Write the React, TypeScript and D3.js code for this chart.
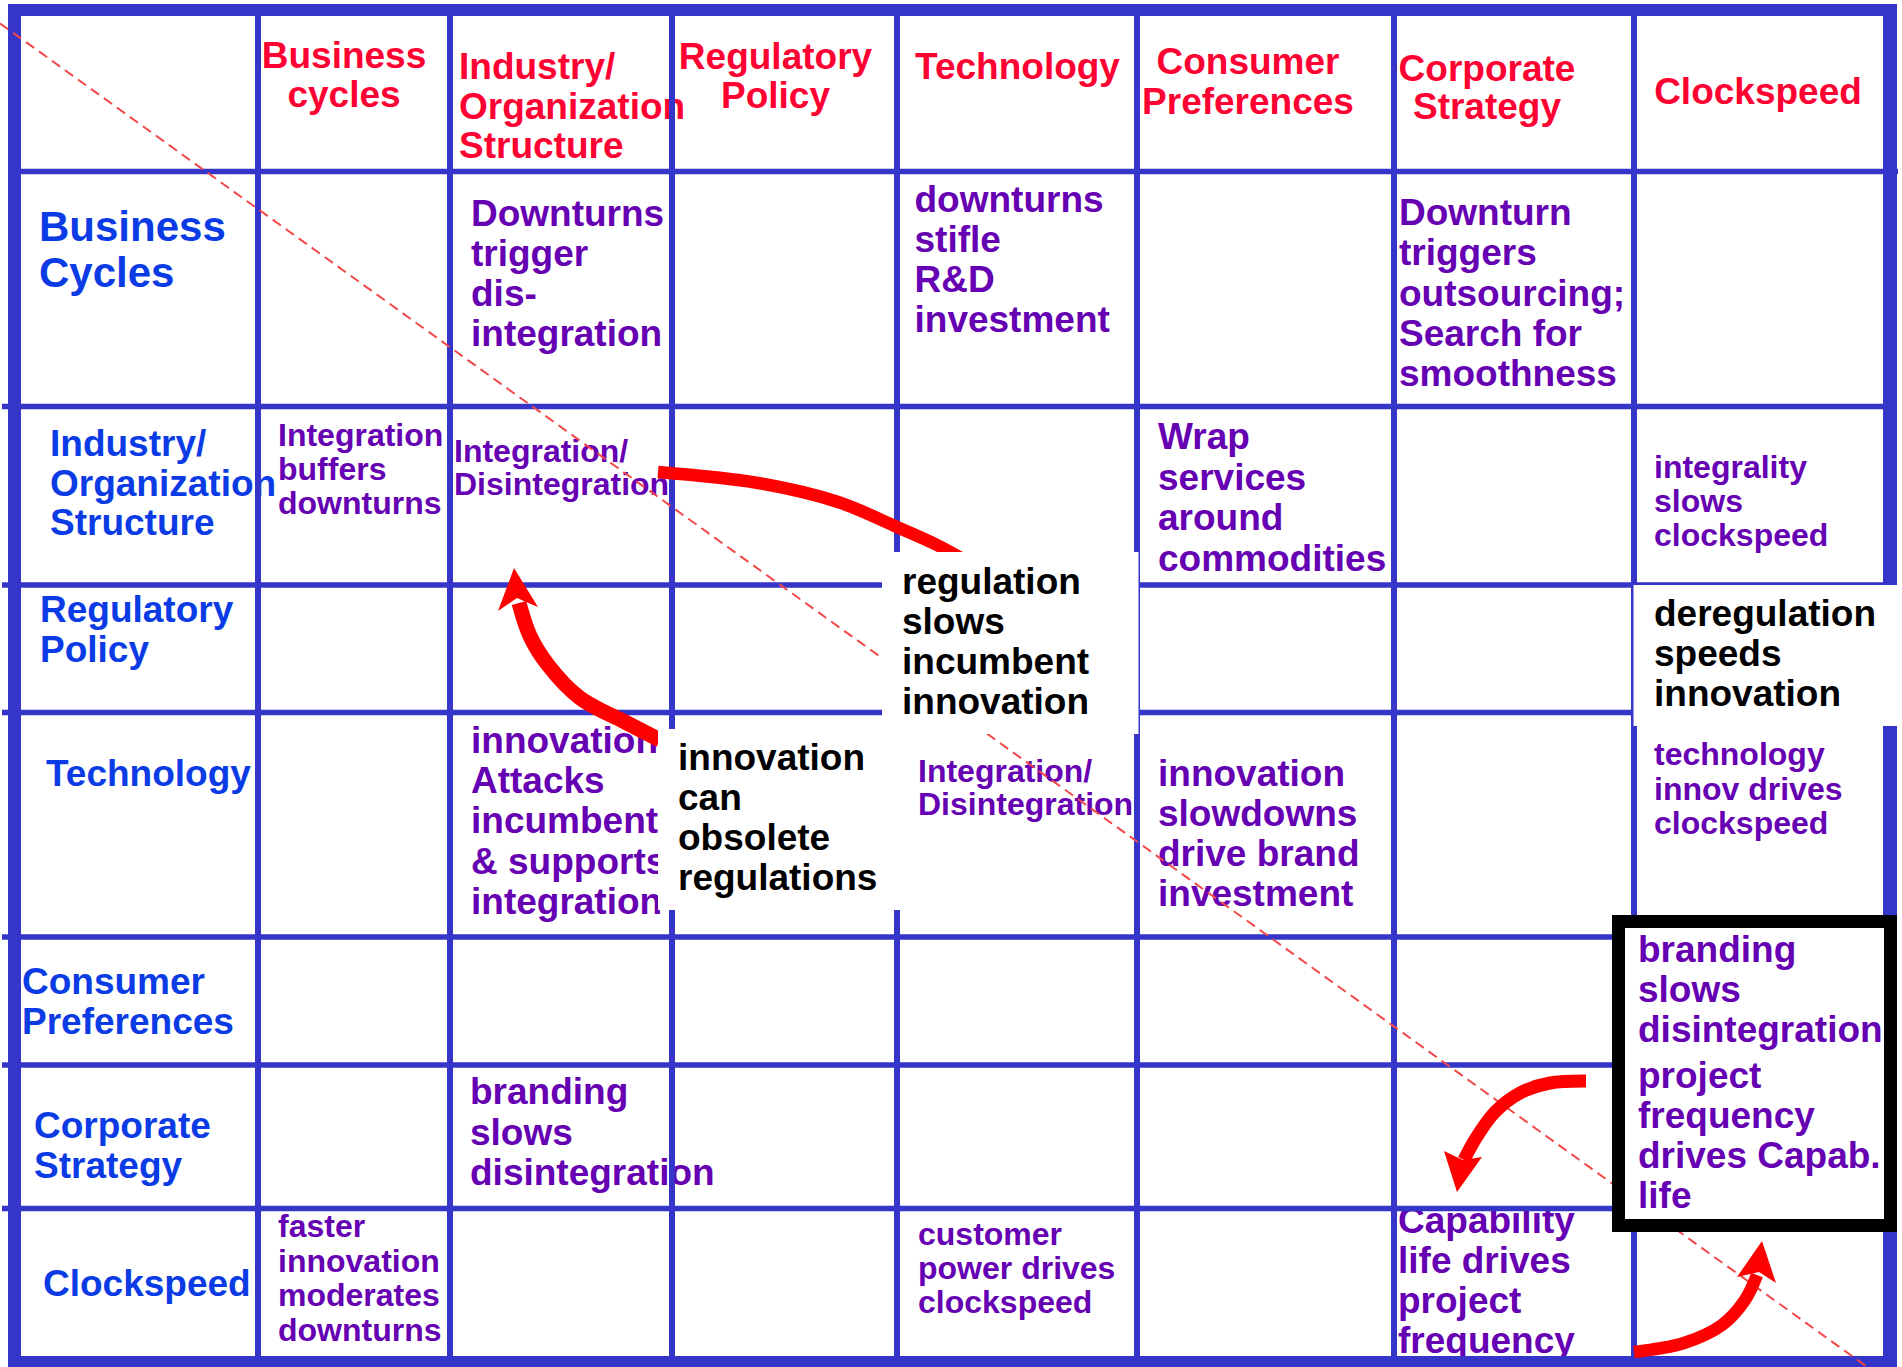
import * as d3 from "d3";

// the seven factors, as column heads (what is affected) and row heads (what acts)
const colHeads = [
  ["Business", "cycles"],
  ["Industry/", "Organization", "Structure"],
  ["Regulatory", "Policy"],
  ["Technology"],
  ["Consumer", "Preferences"],
  ["Corporate", "Strategy"],
  ["Clockspeed"],
];
const rowHeads = [
  ["Business", "Cycles"],
  ["Industry/", "Organization", "Structure"],
  ["Regulatory", "Policy"],
  ["Technology"],
  ["Consumer", "Preferences"],
  ["Corporate", "Strategy"],
  ["Clockspeed"],
];

// effect of row factor "from" on column factor "to"
const effects = [
  { from: 0, to: 1, lines: ["Downturns", "trigger", "dis-", "integration"] },
  { from: 0, to: 3, lines: ["downturns", "stifle", "R&D", "investment"] },
  { from: 0, to: 5, lines: ["Downturn", "triggers", "outsourcing;", "Search for", "smoothness"] },
  { from: 1, to: 0, lines: ["Integration", "buffers", "downturns"] },
  { from: 1, to: 1, lines: ["Integration/", "Disintegration"] },
  { from: 1, to: 4, lines: ["Wrap", "services", "around", "commodities"] },
  { from: 1, to: 6, lines: ["integrality", "slows", "clockspeed"] },
  { from: 3, to: 1, lines: ["innovation", "Attacks", "incumbent", "& supports", "integration"] },
  { from: 3, to: 3, lines: ["Integration/", "Disintegration"] },
  { from: 3, to: 4, lines: ["innovation", "slowdowns", "drive brand", "investment"] },
  { from: 3, to: 6, lines: ["technology", "innov drives", "clockspeed"] },
  { from: 5, to: 1, lines: ["branding", "slows", "disintegration"] },
  { from: 6, to: 0, lines: ["faster", "innovation", "moderates", "downturns"] },
  { from: 6, to: 3, lines: ["customer", "power drives", "clockspeed"] },
  { from: 6, to: 5, lines: ["Capability", "life drives", "project", "frequency"] },
];

const callouts = [
  ["regulation", "slows", "incumbent", "innovation"],
  ["innovation", "can", "obsolete", "regulations"],
  ["deregulation", "speeds", "innovation"],
];
const framedNote = [
  ["branding", "slows", "disintegration"],
  ["project", "frequency", "drives Capab.", "life"],
];

// ---- layout ----
const W = 1902;
const H = 1367;
const colEdges = [14, 258, 450, 672, 897, 1137, 1394, 1634, 1890];
const rowEdges = [10, 171.5, 406.5, 585, 712.5, 937, 1065, 1208.5, 1361];

const x = d3.scaleLinear().domain(d3.range(colEdges.length)).range(colEdges);
const y = d3.scaleLinear().domain(d3.range(rowEdges.length)).range(rowEdges);

const headLayout = [
  { anchor: "middle", dx: -10, dy: 58, lh: 39 },
  { anchor: "start", dx: 9, dy: 69, lh: 39.5 },
  { anchor: "middle", dx: -9, dy: 58.5, lh: 39.5 },
  { anchor: "middle", dx: 0.5, dy: 68.5, lh: 40 },
  { anchor: "middle", dx: -17.5, dy: 64, lh: 39.5 },
  { anchor: "middle", dx: -27, dy: 71, lh: 38 },
  { anchor: "middle", dx: -4, dy: 94, lh: 40 },
];
const rowLayout = [
  { dx: 25, dy: 69.5, lh: 46, size: 42 },
  { dx: 36, dy: 49.5, lh: 39.5, size: 37 },
  { dx: 26, dy: 37, lh: 40, size: 37 },
  { dx: 32, dy: 73.5, lh: 40, size: 37 },
  { dx: 8, dy: 57, lh: 40, size: 37 },
  { dx: 20, dy: 73, lh: 40, size: 37 },
  { dx: 29, dy: 87.5, lh: 40, size: 37 },
];
const effectLayout = [
  { dx: 21, dy: 54.5, lh: 40, size: 37 },
  { dx: 17.5, dy: 40.5, lh: 40, size: 37 },
  { dx: 5, dy: 53.5, lh: 40.3, size: 37 },
  { dx: 20, dy: 39.5, lh: 33.8, size: 32 },
  { dx: 4, dy: 55.5, lh: 33, size: 32 },
  { dx: 21, dy: 42.5, lh: 40.5, size: 37 },
  { dx: 20, dy: 71, lh: 34.2, size: 32 },
  { dx: 21, dy: 40.5, lh: 40.2, size: 37 },
  { dx: 21, dy: 69.5, lh: 33, size: 32 },
  { dx: 21, dy: 73.5, lh: 40, size: 37 },
  { dx: 20, dy: 52.5, lh: 34.5, size: 32 },
  { dx: 20, dy: 39, lh: 40.5, size: 37 },
  { dx: 20, dy: 28.5, lh: 34.7, size: 32 },
  { dx: 21, dy: 36.5, lh: 34, size: 32 },
  { dx: 4, dy: 24.5, lh: 40, size: 37 },
];
const calloutBoxes = [
  { x0: 882, y0: 552, x1: 1138.5, y1: 734, tx: 902, ty: 593.5, lh: 40.2 },
  { x0: 658, y0: 729, x1: 905, y1: 910, tx: 678, ty: 769.5, lh: 40.2 },
  { x0: 1633.5, y0: 585, x1: 1902, y1: 726, tx: 1654, ty: 625.5, lh: 40.2 },
];

// red arrows: shaft points, shaft width and (optional) notched head
const arrows: { shaft: [number, number][]; w: number; head: [number, number][] | null }[] = [
  { shaft: [[658, 472], [758, 483], [838, 502], [897, 527], [937, 545], [975, 566]], w: 12.5, head: null },
  { shaft: [[660, 740], [625, 722], [580, 698], [548, 665], [530, 636], [519, 603]], w: 15, head: [[514, 568], [538, 607], [517, 598], [498, 611]] },
  { shaft: [[1586, 1081], [1550, 1083], [1520, 1093], [1495, 1112], [1476, 1138], [1464, 1160]], w: 13, head: [[1457, 1192], [1444, 1151], [1463, 1160], [1482, 1157]] },
  { shaft: [[1634, 1352], [1684, 1343], [1722, 1325], [1745, 1300], [1757, 1275]], w: 12.5, head: [[1762, 1241], [1776, 1283], [1759, 1272], [1737, 1277]] },
];
const diagonal: [number, number][] = [[0, 23.4], [1870, 1369]];

const BLUE = "#3535C9";
const RED = "#FF0033";
const LABEL = "#0A3BE5";
const PURPLE = "#6600B3";
const FONT = "'Liberation Sans', Arial, Helvetica, sans-serif";

const curved = d3.line().curve(d3.curveCatmullRom.alpha(0.5));
const straight = d3.line();

function Lines({ lines, x0, y0, lh, size, fill, anchor = "start" }: any) {
  return (
    <text x={x0} y={y0} fontSize={size} fill={fill} textAnchor={anchor} fontFamily={FONT} fontWeight="bold">
      {lines.map((l: string, i: number) => (
        <tspan key={i} x={x0} y={y0 + i * lh}>
          {l}
        </tspan>
      ))}
    </text>
  );
}

export default function App() {
  return (
    <div style={{ position: "absolute", left: 0, top: 0 }}>
      <svg width={W} height={H} style={{ display: "block", background: "#fff" }}>
        <rect width={W} height={H} fill="#fff" />

        {/* column heads */}
        {colHeads.map((lines, c) => {
          const L = headLayout[c];
          const cx = L.anchor === "middle" ? (x(c + 1) + x(c + 2)) / 2 + L.dx : x(c + 1) + L.dx;
          return <Lines key={"h" + c} lines={lines} x0={cx} y0={y(0) + L.dy} lh={L.lh} size={37} fill={RED} anchor={L.anchor} />;
        })}

        {/* row heads */}
        {rowHeads.map((lines, r) => {
          const L = rowLayout[r];
          return <Lines key={"r" + r} lines={lines} x0={x(0) + L.dx} y0={y(r + 1) + L.dy} lh={L.lh} size={L.size} fill={LABEL} />;
        })}

        {/* effects in cells */}
        {effects.map((e, i) => {
          const L = effectLayout[i];
          return <Lines key={"e" + i} lines={e.lines} x0={x(e.to + 1) + L.dx} y0={y(e.from + 1) + L.dy} lh={L.lh} size={L.size} fill={PURPLE} />;
        })}

        {/* grid */}
        <g fill={BLUE}>
          {colEdges.slice(1, -1).map((cx, i) => (
            <rect key={"v" + i} x={cx - 3} y={16} width={6} height={1356 - 16} />
          ))}
          {rowEdges.slice(1, -1).map((ry, i) => (
            <rect key={"hz" + i} x={i === 0 ? 21 : 2} y={ry - 2.75} width={(i === 0 ? 1898 : 1883) - (i === 0 ? 21 : 2)} height={5.5} />
          ))}
          <rect x={8} y={4} width={1889} height={12} />
          <rect x={8} y={4} width={13} height={H} />
          <rect x={1883} y={4} width={14} height={H} />
          <rect x={8} y={1356} width={1889} height={14} />
        </g>

        {/* diagonal */}
        <path d={straight(diagonal) || ""} stroke="#F24848" strokeWidth={2} strokeDasharray="10 6" fill="none" />

        {/* arrows */}
        {arrows.map((a, i) => (
          <g key={"a" + i} fill="#FF0000">
            <path d={curved(a.shaft) || ""} stroke="#FF0000" strokeWidth={a.w} fill="none" />
            {a.head && <polygon points={a.head.map((p) => p.join(",")).join(" ")} />}
          </g>
        ))}

        {/* callouts */}
        {callouts.map((lines, i) => {
          const b = calloutBoxes[i];
          return (
            <g key={"c" + i}>
              <rect x={b.x0} y={b.y0} width={b.x1 - b.x0} height={b.y1 - b.y0} fill="#fff" />
              <Lines lines={lines} x0={b.tx} y0={b.ty} lh={b.lh} size={37} fill="#000" />
            </g>
          );
        })}

        {/* framed note */}
        <rect x={1618.5} y={921.5} width={272} height={304} fill="#fff" stroke="#000" strokeWidth={13} />
        <Lines lines={framedNote[0]} x0={1638} y0={962} lh={40} size={37} fill={PURPLE} />
        <Lines lines={framedNote[1]} x0={1638} y0={1088} lh={40} size={37} fill={PURPLE} />
      </svg>
    </div>
  );
}
